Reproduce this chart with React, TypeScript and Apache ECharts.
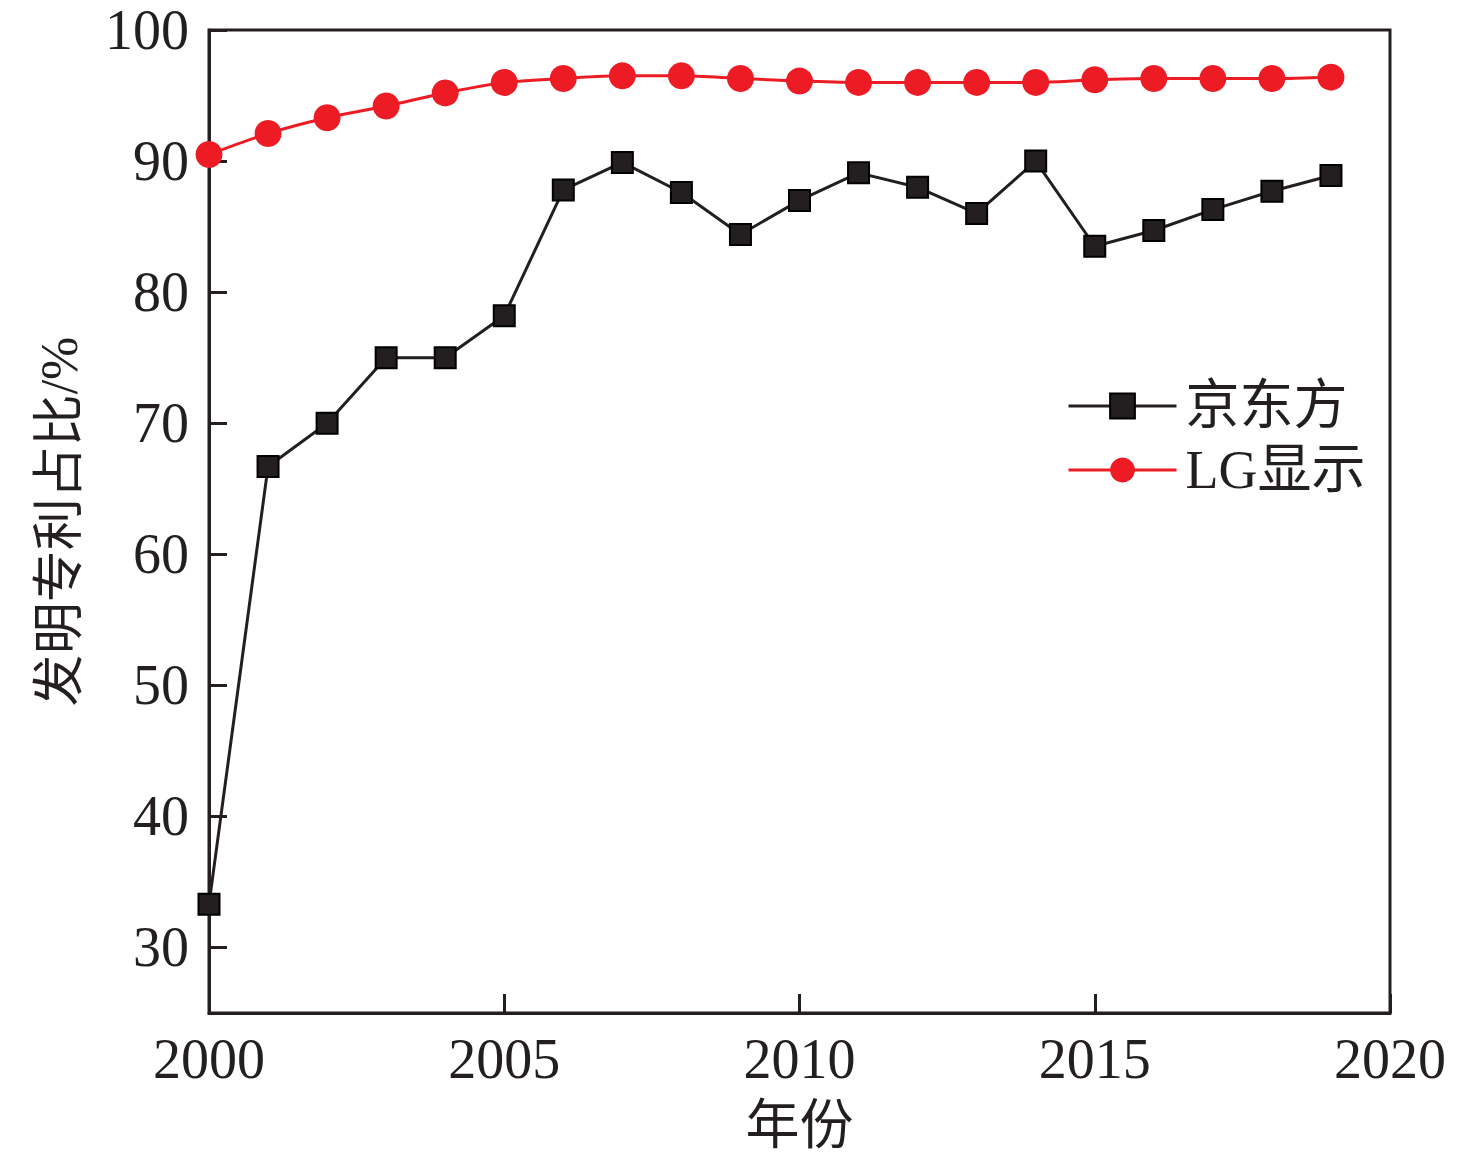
import React, { useEffect, useRef } from "react";
import * as echarts from "echarts";

const years = [2000, 2001, 2002, 2003, 2004, 2005, 2006, 2007, 2008, 2009, 2010, 2011, 2012, 2013, 2014, 2015, 2016, 2017, 2018, 2019];
const boeValues = [33.3, 66.7, 70.0, 75.0, 75.0, 78.2, 87.8, 89.9, 87.6, 84.4, 87.0, 89.1, 88.0, 86.0, 90.0, 83.5, 84.7, 86.3, 87.7, 88.9];
const lgValues = [90.5, 92.1, 93.3, 94.2, 95.2, 96.0, 96.3, 96.5, 96.5, 96.3, 96.1, 96.0, 96.0, 96.0, 96.0, 96.2, 96.3, 96.3, 96.3, 96.4];
const yTicks = [30, 40, 50, 60, 70, 80, 90, 100];
const seriesNames = ["京东方", "LG显示"];
const xTitle = "年份";
const yTitle = "发明专利占比/%";

const FONT = "'Liberation Serif', 'Times New Roman', 'Noto Sans CJK SC', serif";
const INK = "#231f20";
const RED = "#ed1c24";

export default function App() {
  const ref = useRef<HTMLDivElement>(null);
  useEffect(() => {
    if (!ref.current) return;
    const chart = echarts.init(ref.current, undefined, { renderer: "svg" });
    chart.setOption({
      animation: false,
      backgroundColor: "#ffffff",
      grid: {
        left: 209,
        right: 86,
        top: 30,
        bottom: 149,
        show: true,
        borderColor: INK,
        borderWidth: 3,
        backgroundColor: "transparent",
      },
      legend: {
        orient: "vertical",
        left: 1062,
        top: 374,
        itemWidth: 108,
        itemHeight: 31,
        itemGap: 10,
        lineStyle: { width: 3 },
        textStyle: { fontFamily: FONT, fontSize: 54, color: INK, padding: [0, 0, 0, 4] },
        data: seriesNames,
      },
      xAxis: {
        type: "value",
        min: 2000,
        max: 2020,
        interval: 5,
        name: xTitle,
        nameLocation: "middle",
        nameGap: 86,
        nameTextStyle: { fontFamily: FONT, fontSize: 54, color: INK },
        axisLine: { show: true, lineStyle: { color: INK, width: 3 } },
        axisTick: { show: true, inside: true, length: 19, lineStyle: { color: INK, width: 3 } },
        axisLabel: { fontFamily: FONT, fontSize: 56, color: INK, margin: 18, formatter: (v: number) => String(v) },
        splitLine: { show: false },
      },
      yAxis: {
        type: "value",
        min: 25,
        max: 100,
        name: yTitle,
        nameLocation: "middle",
        nameGap: 124,
        nameRotate: 90,
        nameTextStyle: { fontFamily: FONT, fontSize: 52, color: INK },
        axisLine: { show: true, lineStyle: { color: INK, width: 3 } },
        axisTick: { show: true, inside: true, length: 18, customValues: yTicks, lineStyle: { color: INK, width: 3 } },
        axisLabel: { fontFamily: FONT, fontSize: 56, color: INK, margin: 20, customValues: yTicks },
        splitLine: { show: false },
      },
      series: [
        {
          name: seriesNames[0],
          type: "line",
          data: years.map((y, i) => [y, boeValues[i]]),
          symbol: "rect",
          symbolSize: 21,
          lineStyle: { color: INK, width: 3 },
          itemStyle: { color: INK, borderColor: "#000", borderWidth: 2 },
          z: 3,
        },
        {
          name: seriesNames[1],
          type: "line",
          data: years.map((y, i) => [y, lgValues[i]]),
          symbol: "circle",
          symbolSize: 27,
          smooth: 0.3,
          lineStyle: { color: RED, width: 3 },
          itemStyle: { color: RED },
          z: 2,
        },
      ],
    });
    return () => chart.dispose();
  }, []);
  return (
    <div
      ref={ref}
      style={{ position: "absolute", left: 0, top: 0, width: 1476, height: 1162, background: "#fff" }}
    />
  );
}
